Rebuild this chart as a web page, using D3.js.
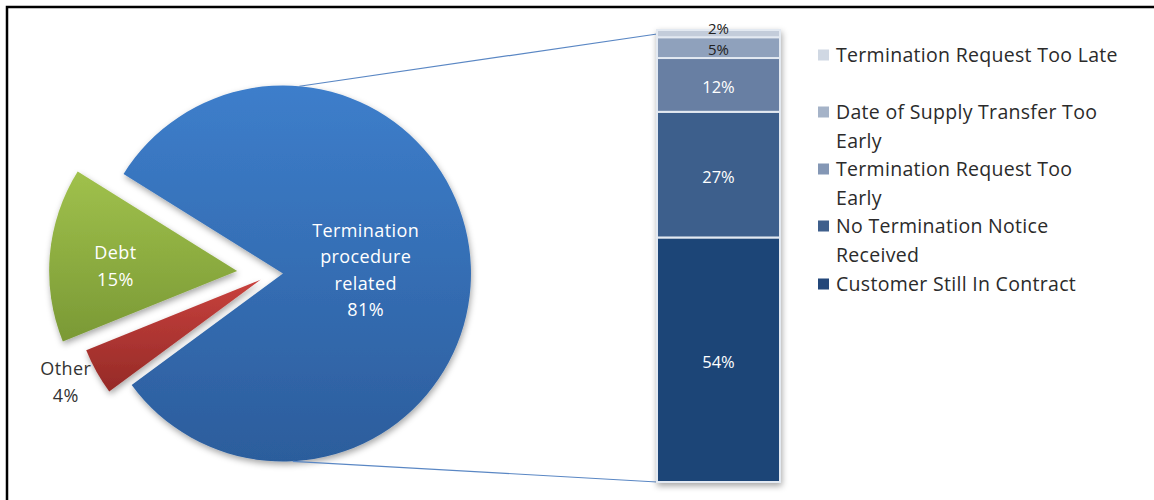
<!DOCTYPE html>
<html>
<head>
<meta charset="utf-8">
<script src="https://cdn.jsdelivr.net/npm/d3@7"></script>
<style>
  body { margin: 0; background: #fff; }
  svg { display: block; }
</style>
</head>
<body>
<div class="chart"></div>
<script>
// pie: main reasons (clockwise order as drawn)
const pieNames = ["Termination procedure related", "Other", "Debt"]
const pieValues = [81, 4, 15]
const pieLabels = [["Termination", "procedure", "related", "81%"], ["Other", "4%"], ["Debt", "15%"]]

// bar: breakdown of the termination slice, bottom to top
const barNames = ["Customer Still In Contract", "No Termination Notice Received", "Termination Request Too Early", "Date of Supply Transfer Too Early", "Termination Request Too Late"]
const barValues = [54.1, 27.8, 11.9, 4.6, 1.6]
const barLabels = ["54%", "27%", "12%", "5%", "2%"]

const W = 1154, H = 500
const font = "'Open Sans', Lato, sans-serif"

const svg = d3.select('.chart')
  .append('svg')
  .attr('width', W)
  .attr('height', H)

const defs = svg.append('defs')
const shadow = defs.append('filter').attr('id', 'shadow')
  .attr('x', '-20%').attr('y', '-20%').attr('width', '140%').attr('height', '140%')
shadow.append('feDropShadow')
  .attr('dx', 1).attr('dy', 3).attr('stdDeviation', 3)
  .attr('flood-color', '#000').attr('flood-opacity', 0.35)

const pieGrad = [["#3d7ecb", "#2c5d9c"], ["#c8413d", "#952a27"], ["#a0c14c", "#7a9935"]]
pieGrad.forEach((g, i) => {
  const lg = defs.append('linearGradient').attr('id', 'pg' + i)
    .attr('x1', 0).attr('y1', 0).attr('x2', 0).attr('y2', 1)
  lg.append('stop').attr('offset', '0%').attr('stop-color', g[0])
  lg.append('stop').attr('offset', '100%').attr('stop-color', g[1])
})

// frame
svg.append('path')
  .attr('d', `M7,${H} L7,7 L${W},7`)
  .attr('fill', 'none')
  .attr('stroke', '#000')
  .attr('stroke-width', 2.5)

// ---- pie ----
const cx = 271, cy = 274, r = 188
const explode = [12, 12, 34]
const start = -58 * Math.PI / 180

const pie = d3.pie().sort(null).startAngle(start).endAngle(start + 2 * Math.PI)
const arcs = pie(pieValues)
const arc = d3.arc().innerRadius(0).outerRadius(r)

const offset = (d, i) => {
  const a = (d.startAngle + d.endAngle) / 2
  return [Math.sin(a) * explode[i], -Math.cos(a) * explode[i]]
}

const pieG = svg.append('g').attr('transform', `translate(${cx},${cy})`)

pieG.selectAll('path')
  .data(arcs)
  .enter()
  .append('path')
  .attr('d', arc)
  .attr('transform', (d, i) => `translate(${offset(d, i)})`)
  .attr('fill', (d, i) => `url(#pg${i})`)
  .attr('filter', 'url(#shadow)')

// connector lines from the big slice to the bar
const y = d3.scaleLinear()
  .domain([0, d3.sum(barValues)])
  .range([482, 30])
const barX = 657, barW = 123

const bo = offset(arcs[0], 0)
const conn = [5, 177].map(a => {
  const t = a * Math.PI / 180
  return [cx + bo[0] + Math.sin(t) * r, cy + bo[1] - Math.cos(t) * r]
})
svg.append('line')
  .attr('x1', conn[0][0]).attr('y1', conn[0][1])
  .attr('x2', barX).attr('y2', y(d3.sum(barValues)) + 4)
  .attr('stroke', '#5a87c4').attr('stroke-width', 1.2)
svg.append('line')
  .attr('x1', conn[1][0]).attr('y1', conn[1][1])
  .attr('x2', barX).attr('y2', y(0))
  .attr('stroke', '#5a87c4').attr('stroke-width', 1.2)

// pie labels
const labelArc = [
  d3.arc().innerRadius(r * 0.44).outerRadius(r * 0.44),
  d3.arc().innerRadius(r * 1.15).outerRadius(r * 1.15),
  d3.arc().innerRadius(r * 0.65).outerRadius(r * 0.65)
]
const labelColor = ["#fff", "#333", "#fff"]
const labelShift = [[0, 0], [-6, -3], [0, 6]]
arcs.forEach((d, i) => {
  const c = labelArc[i].centroid(d)
  const o = offset(d, i)
  const lines = pieLabels[i]
  const t = pieG.append('text')
    .attr('text-anchor', 'middle')
    .attr('font-family', font)
    .attr('font-size', 18)
    .attr('letter-spacing', 0.4)
    .attr('fill', labelColor[i])
  lines.forEach((s, k) => {
    t.append('tspan')
      .attr('x', c[0] + o[0] + labelShift[i][0])
      .attr('y', c[1] + o[1] + (k - (lines.length - 1) / 2) * 26.5 + 6 + labelShift[i][1])
      .text(s)
  })
})

// ---- bar of pie ----
const barColors = ["#1f4577", "#3d5f8c", "#677fa3", "#8fa1bc", "#c3ccda"]
const stacked = []
let acc = 0
barValues.forEach((v, i) => {
  stacked.push({ v: v, y0: acc, y1: acc + v, i: i })
  acc += v
})

const barG = svg.append('g').attr('filter', 'url(#shadow)')
barG.selectAll('rect')
  .data(stacked)
  .enter()
  .append('rect')
  .attr('x', barX)
  .attr('y', d => y(d.y1))
  .attr('width', barW)
  .attr('height', d => y(d.y0) - y(d.y1))
  .attr('fill', d => barColors[d.i])
  .attr('stroke', '#e3e9f1')
  .attr('stroke-width', 2)

svg.selectAll('.barlabel')
  .data(stacked)
  .enter()
  .append('text')
  .attr('class', 'barlabel')
  .attr('x', barX + barW / 2)
  .attr('y', d => d.i === 4 ? y(d.y1) + 4 : (y(d.y0) + y(d.y1)) / 2 + (d.i === 3 ? 7 : 8))
  .attr('text-anchor', 'middle')
  .attr('font-family', font)
  .attr('font-size', d => d.i >= 3 ? 15 : 16.5)
  .attr('fill', d => d.i >= 3 ? '#222' : '#fff')
  .text(d => barLabels[d.i])

// ---- legend (top to bottom) ----
const legendLines = [["Termination Request Too Late"], ["Date of Supply Transfer Too", "Early"], ["Termination Request Too", "Early"], ["No Termination Notice", "Received"], ["Customer Still In Contract"]]
const legendY = [55, 112, 169, 226, 284]
const legendColors = ["#d0d8e3", "#a5b3c8", "#8497b5", "#3f5f8c", "#23477a"]

const leg = svg.append('g')
legendLines.forEach((lines, i) => {
  leg.append('rect')
    .attr('x', 818).attr('y', legendY[i] - 5.5)
    .attr('width', 11).attr('height', 11)
    .attr('fill', legendColors[i])
  const t = leg.append('text')
    .attr('font-family', font)
    .attr('font-size', 19.5)
    .attr('letter-spacing', 0.3)
    .attr('fill', '#2b2b2b')
  lines.forEach((s, k) => {
    t.append('tspan')
      .attr('x', 836)
      .attr('y', legendY[i] + 7 + k * 29)
      .text(s)
  })
})
</script>
</body>
</html>
